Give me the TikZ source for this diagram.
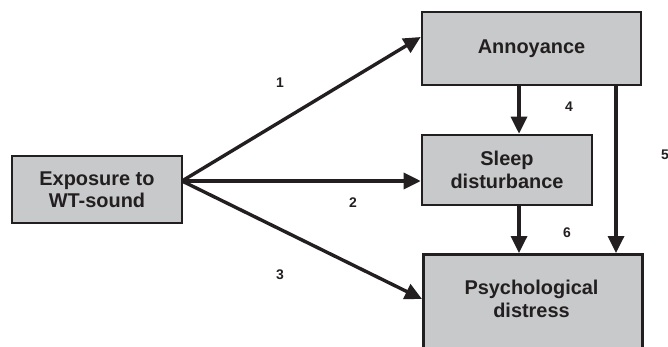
\documentclass[tikz,border=0pt]{standalone}
\usepackage{fontspec}
\setmainfont{Liberation Sans}
\usetikzlibrary{arrows.meta,calc}
\definecolor{ink}{HTML}{231F20}
\definecolor{boxgray}{HTML}{C8C9CA}
\tikzset{
  box/.style={draw=ink, fill=boxgray, line width=2.6bp, inner sep=0pt,
    align=center, text=ink, font=\fontsize{20}{22.5}\selectfont\bfseries},
  link/.style={draw=ink, line width=3.4bp, -{Triangle[length=17bp,width=16bp]}},
  num/.style={text=ink, font=\fontsize{14}{15}\selectfont\bfseries, inner sep=0pt}
}
\begin{document}
\begin{tikzpicture}[x=1bp,y=-1bp]
\clip (0,0) rectangle (668,346);
\fill[white] (0,0) rectangle (668,346);
\node[box, minimum width=170bp, minimum height=67bp] (exp) at (97,189.5) {Exposure to\\WT-sound};
\node[box, minimum width=219bp, minimum height=73bp] (ann) at (531.5,48.5) {Annoyance};
\node[box, minimum width=170bp, minimum height=70bp] (sleep) at (507,170) {Sleep\\disturbance};
\node[box, minimum width=219bp, minimum height=110bp, anchor=north west] (psych) at (422,253) {};
\node[text=ink, font=\fontsize{20}{22.5}\selectfont\bfseries, align=center] (psychtxt) at (531.5,299) {Psychological\\distress};
\coordinate (src) at (182,181);
\coordinate (c4) at (519,0);
\coordinate (c5) at (616,0);
\draw[link] (src) -- ([yshift=11.5bp]ann.west);
\draw[link] (src) -- (sleep.west |- src);
\draw[link] (src) -- (psych.west |- psychtxt);
\draw[link] (ann.south -| c4) -- (sleep.north -| c4);
\draw[link] (sleep.south -| c4) -- (psych.north -| c4);
\draw[link] (ann.south -| c5) -- (psych.north -| c5);
\node[num] (n1) at (280,83) {1};
\node[num] (n2) at (353,203) {2};
\node[num] (n3) at (280,275) {3};
\node[num] (n4) at (569,107) {4};
\node[num] (n5) at (665,155) {5};
\node[num] (n6) at (567,233) {6};
\end{tikzpicture}
\end{document}
